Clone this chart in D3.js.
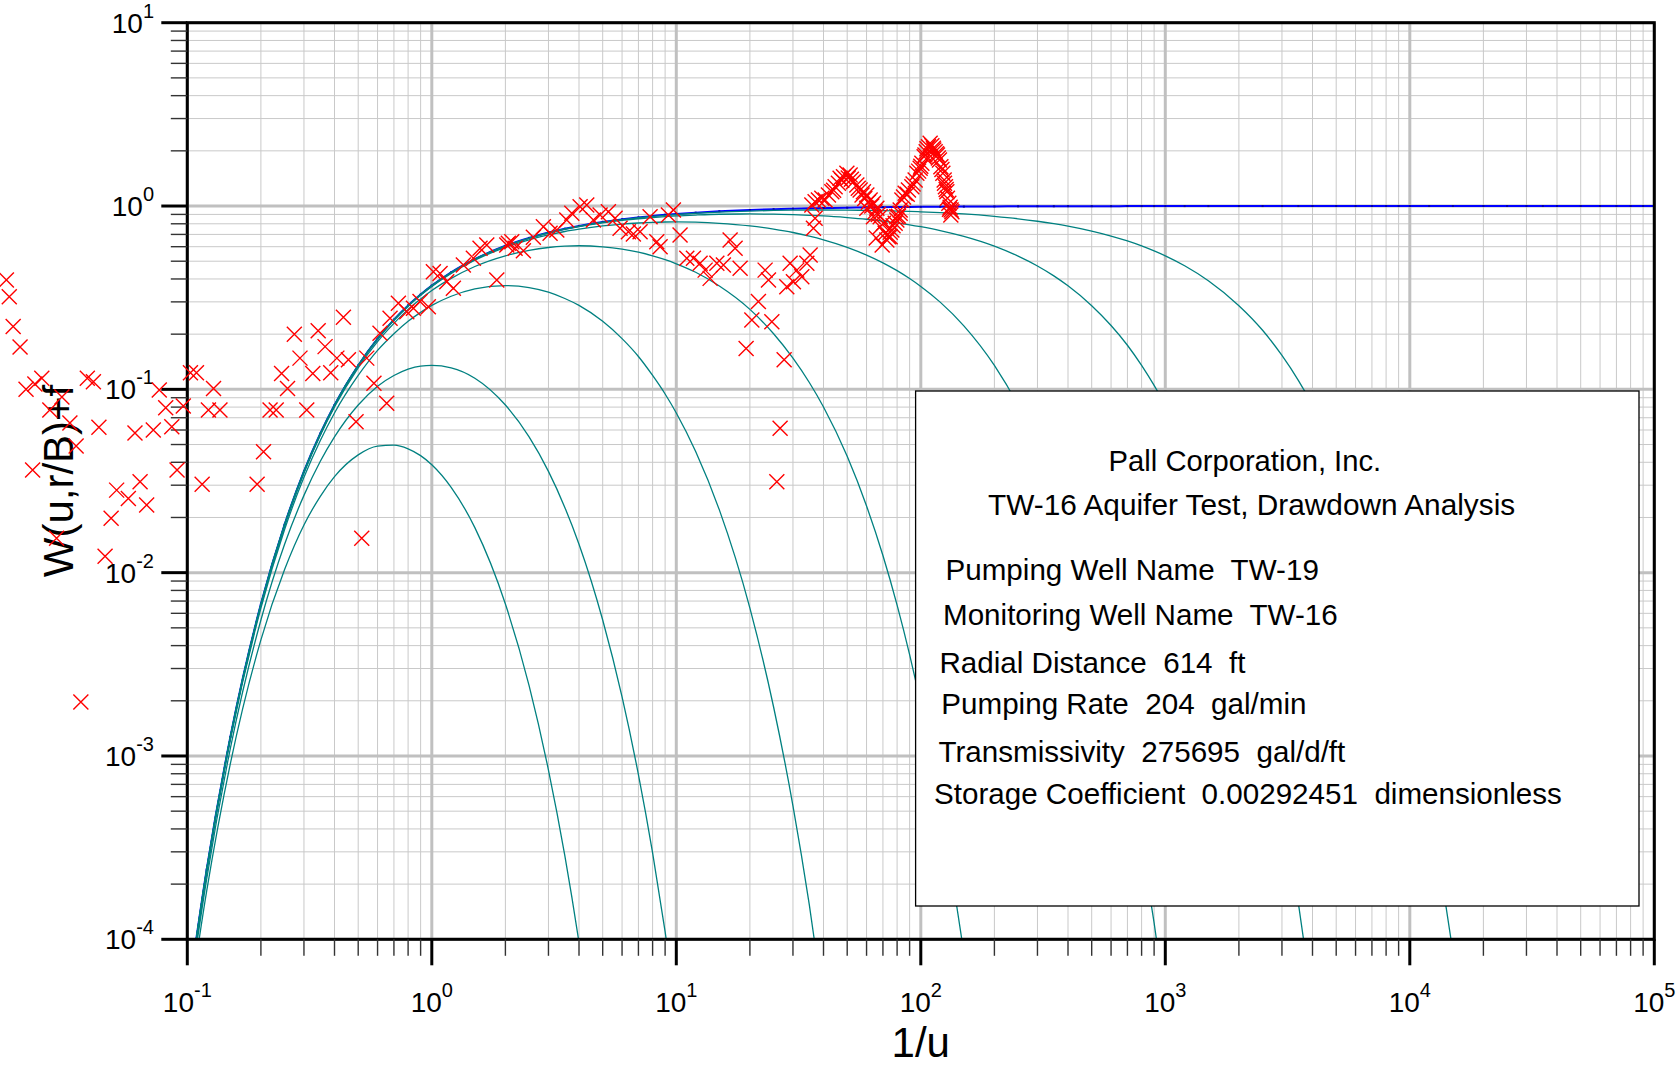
<!DOCTYPE html>
<html><head><meta charset="utf-8">
<script src="https://cdn.jsdelivr.net/npm/d3@7"></script>
<style>
html,body{margin:0;padding:0;background:#fff;}
svg{display:block;font-family:"Liberation Sans",Arial,sans-serif;}
</style></head><body>
<svg id="chart" width="1678" height="1068"></svg>
<script>
// ---------- DATA ----------
const xTickValues = [0.1, 1, 10, 100, 1000, 10000, 100000];
const xTickExp = ["-1", "0", "1", "2", "3", "4", "5"];
const yTickValues = [1e-4, 1e-3, 1e-2, 1e-1, 1, 10];
const yTickExp = ["-4", "-3", "-2", "-1", "0", "1"];

// type-curve sample points (1/u)
const invU = [0.1,0.12,0.15,0.2,0.25,0.3,0.35,0.4,0.5,0.6,0.7,0.8,0.9,
1,1.2,1.5,2,2.5,3,3.5,4,5,6,7,8,9,
10,12,15,20,25,30,35,40,50,60,70,80,90,
100,120,150,200,250,300,350,400,500,600,700,800,900,
1000,1200,1500,2000,2500,3000,3500,4000,5000,6000,7000,8000,9000,
10000,12000,15000,20000,25000,30000,35000,40000,50000,60000,70000,80000,90000,100000];

// blue curve (r/B = 0)
const blueW = [4.54e-5,2.40e-4,1.27e-3,6.74e-3,0.0183,0.0357,0.0574,0.0821,0.135,0.189,0.240,0.287,0.329,
0.368,0.435,0.513,0.607,0.670,0.717,0.752,0.779,0.819,0.846,0.867,0.882,0.895,
0.905,0.920,0.936,0.951,0.961,0.967,0.972,0.975,0.980,0.983,0.986,0.988,0.989,
0.990,0.992,0.993,0.995,0.996,0.997,0.997,0.998,0.998,0.998,0.999,0.999,0.999,
0.999,0.9992,0.9993,0.9995,0.9996,0.9997,0.9997,0.9998,0.9998,0.9998,0.9999,0.9999,0.9999,
1,1,1,1,1,1,1,1,1,1,1,1,1,1];

// teal family curves
const rB3 = [3.63e-5,1.83e-4,9.08e-4,4.30e-3,0.0104,0.0182,0.0261,0.0334,0.0439,0.0490,0.0496,0.0474,0.0435,
0.0388,0.0292,0.0176,6.74e-3,2.42e-3,8.38e-4,2.86e-4,9.61e-5,1.07e-5];
const rB2 = [4.11e-5,2.13e-4,1.10e-3,5.52e-3,0.0143,0.0264,0.0405,0.0550,0.0821,0.104,0.119,0.129,0.134,
0.135,0.131,0.115,0.0821,0.0550,0.0357,0.0227,0.0143,5.52e-3,2.10e-3,7.91e-4,2.96e-4,1.10e-4,4.11e-5];
const rB1 = [4.43e-5,2.33e-4,1.23e-3,6.41e-3,0.0172,0.0331,0.0526,0.0743,0.119,0.163,0.201,0.235,0.263,
0.287,0.322,0.353,0.368,0.359,0.339,0.313,0.287,0.235,0.189,0.151,0.119,0.0943,
0.0743,0.0458,0.0220,6.41e-3,1.85e-3,5.35e-4,1.54e-4,4.43e-5];
const rB05 = [4.51e-5,2.38e-4,1.26e-3,6.65e-3,0.0180,0.0350,0.0562,0.0801,0.131,0.182,0.229,0.273,0.311,
0.346,0.403,0.468,0.535,0.573,0.594,0.604,0.607,0.599,0.582,0.560,0.535,0.510,
0.484,0.435,0.366,0.273,0.201,0.148,0.109,0.0801,0.0431,0.0231,0.0124,6.65e-3,3.57e-3,
1.91e-3,5.49e-4,8.43e-5];
const rB02 = [4.54e-5,2.40e-4,1.27e-3,6.73e-3,0.0183,0.0356,0.0572,0.0818,0.135,0.188,0.238,0.284,0.326,
0.364,0.429,0.506,0.595,0.654,0.695,0.726,0.748,0.779,0.797,0.808,0.815,0.818,
0.819,0.816,0.805,0.779,0.748,0.717,0.685,0.654,0.595,0.540,0.490,0.444,0.402,
0.364,0.299,0.222,0.135,0.0818,0.0496,0.0301,0.0183,6.73e-3,2.48e-3,9.11e-4,3.35e-4,1.23e-4,4.54e-5];
const rB01 = [4.54e-5,2.40e-4,1.27e-3,6.73e-3,0.0183,0.0356,0.0574,0.0820,0.135,0.189,0.239,0.286,0.329,
0.367,0.433,0.512,0.604,0.666,0.711,0.745,0.771,0.809,0.834,0.852,0.865,0.875,
0.883,0.893,0.902,0.905,0.903,0.897,0.890,0.883,0.865,0.847,0.828,0.809,0.790,
0.771,0.735,0.683,0.604,0.533,0.471,0.416,0.367,0.286,0.223,0.174,0.135,0.105,
0.0820,0.0498,0.0235,6.73e-3,1.93e-3,5.53e-4,1.58e-4,4.54e-5];
const rB005 = [4.54e-5,2.40e-4,1.27e-3,6.74e-3,0.0183,0.0357,0.0574,0.0821,0.135,0.189,0.240,0.286,0.329,
0.368,0.434,0.513,0.606,0.669,0.715,0.750,0.777,0.816,0.843,0.863,0.878,0.890,
0.899,0.913,0.927,0.939,0.946,0.949,0.951,0.951,0.950,0.947,0.944,0.939,0.935,
0.930,0.920,0.905,0.878,0.852,0.826,0.801,0.777,0.730,0.686,0.645,0.606,0.569,
0.535,0.472,0.391,0.286,0.210,0.153,0.112,0.0821,0.0439,0.0235,0.0126,6.74e-3,3.61e-3,
1.93e-3,5.53e-4,8.48e-5,3.7e-6];

// observed drawdown data (1/u, W)
const obsInvU = [0.0182,0.0187,0.0194,0.0207,0.0219,0.0238,0.0254,0.0274,0.0307,0.0331,0.0351,0.0233,0.0390,0.0413,0.0435,
0.0514,0.0574,0.0641,0.0682,0.0488,0.0292,0.0461,0.0367,0.0611,0.0726,0.0864,0.0768,0.0816,0.0963,0.0908,
0.103,0.109,0.128,0.122,0.136,0.115,0.193,0.205,0.218,0.231,0.243,0.257,0.308,0.274,0.289,0.326,0.343,0.366,
0.386,0.409,0.435,0.456,0.490,0.542,0.580,0.654,0.517,0.614,0.675,0.730,0.790,0.841,0.895,0.968,1.015,1.081,
1.151,1.225,1.346,1.479,1.575,1.678,1.844,2.026,2.124,2.056,2.191,2.369,2.602,2.860,3.046,3.245,3.565,3.737,
4.042,4.303,4.580,4.879,5.275,5.618,5.889,6.368,6.675,7.110,7.812,8.322,8.585,9.283,9.730,10.36,11.04,11.75,
12.51,13.12,13.75,14.65,15.58,16.60,17.40,18.24,23.08,23.82,21.67,20.37,24.59,19.30,27.61,26.58,25.77,29.21,
31.11,32.61,30.13,28.31,34.19,35.27,36.38,36.96,35.84,36.96,38.13,39.37,40.62,41.90,43.26,44.63,46.03,46.77,
48.28,49.85,51.40,53.03,54.75,56.48,58.26,60.16,62.06,64.03,66.11,68.20,70.35,71.48,72.63,73.75,76.14,78.55,
79.80,82.34,83.68,86.30,89.02,91.92,94.82,96.34,99.38,101.0,103.2,105.2,107.5,109.2,112.6,114.5,117.0,119.2,
120.8,123.1,124.6,126.1,127.8,128.5,130.2,131.8,134.0,132.7,60.16,64.03,68.20,74.93,79.80,82.34,69.5,65.7,
44.0,47.5,50.5,52.0,55.5,57.5,59.0,61.0,63.0,65.0,67.0,75.0,77.0,81.0,85.0,88.0,93.0,98.0,100.0,104.0,106.0,
111.0,113.0,116.0,118.0,122.0,125.0,127.0,131.0,133.0];
const obsW = [0.395,0.320,0.220,0.170,0.100,0.107,0.115,0.0771,0.0908,0.0655,0.0491,0.0363,0.115,0.110,0.0621,
0.0282,0.0254,0.0313,0.0234,0.0198,0.0154,0.0123,0.00197,0.0578,0.0600,0.0625,0.0991,0.0794,0.0811,0.0363,
0.123,0.123,0.101,0.0771,0.0771,0.0304,0.0304,0.0457,0.0771,0.0771,0.122,0.101,0.0771,0.200,0.148,0.122,0.209,0.171,
0.123,0.148,0.247,0.145,0.0666,0.148,0.108,0.0839,0.0154,0.202,0.244,0.295,0.265,0.277,0.301,0.282,0.438,0.429,
0.386,0.356,0.477,0.519,0.588,0.613,0.395,0.613,0.639,0.626,0.588,0.570,0.675,0.771,0.710,0.740,0.839,0.912,
0.991,1.013,0.839,0.893,0.931,0.857,0.756,0.724,0.704,0.724,0.874,0.639,0.600,0.893,0.951,0.695,0.519,0.519,
0.487,0.447,0.403,0.487,0.477,0.653,0.588,0.457,0.447,0.395,0.301,0.239,0.234,0.167,0.145,0.0613,0.0313,0.487,
0.447,0.411,0.386,0.363,0.487,0.540,0.756,0.857,1.013,1.056,1.078,1.102,1.078,1.148,1.197,1.274,1.330,1.416,
1.445,1.508,1.476,1.357,1.302,1.223,1.197,1.148,1.078,1.034,0.972,0.874,0.805,0.710,0.653,0.680,0.740,0.805,
0.874,0.951,1.078,1.173,1.223,1.274,1.386,1.508,1.606,1.710,1.858,1.978,2.106,2.198,2.064,1.978,1.897,1.782,
1.638,1.508,1.386,1.274,1.197,1.102,1.034,0.984,0.931,0.893,0.972,0.874,0.771,0.680,0.839,0.912,0.613,0.669,
1.22,1.38,1.42,1.40,1.25,1.15,1.10,1.05,1.00,0.93,0.90,0.72,0.78,0.88,1.12,1.16,1.32,1.55,1.65,1.90,2.05,
2.13,2.02,1.93,1.83,1.58,1.33,1.23,0.96,0.95];

const boxTitleLines = ["Pall Corporation, Inc.", "TW-16 Aquifer Test, Drawdown Analysis"];
const boxInfoLines = ["Pumping Well Name  TW-19", "Monitoring Well Name  TW-16", "Radial Distance  614  ft",
  "Pumping Rate  204  gal/min", "Transmissivity  275695  gal/d/ft", "Storage Coefficient  0.00292451  dimensionless"];

// ---------- LAYOUT ----------
const M = {left: 187.3, right: 1654.3, top: 22.7, bottom: 939.3};
const boxRect = {x: 915.6, y: 391, w: 723.4, h: 515};
const titlePos = [[1244.9, 471], [1251.6, 515]];
const titleSize = [29.2, 29.8];
const infoPos = [[945.5, 580], [943, 625], [939.5, 672.7], [941.3, 714.3], [938.5, 761.7], [934, 804.3]];

const x = d3.scaleLog().domain([0.1, 1e5]).range([M.left, M.right]);
const y = d3.scaleLog().domain([1e-4, 10]).range([M.bottom, M.top]);
const svg = d3.select('#chart');

svg.append('defs').append('clipPath').attr('id', 'plotclip')
  .append('rect').attr('x', M.left).attr('y', M.top)
  .attr('width', M.right - M.left).attr('height', M.bottom - M.top);

const isDecade = v => Math.abs(Math.log10(v) - Math.round(Math.log10(v))) < 1e-9;
const xAll = x.ticks(), yAll = y.ticks();
const xMinor = xAll.filter(v => !isDecade(v)), yMinor = yAll.filter(v => !isDecade(v));

// grid
const grid = svg.append('g');
grid.selectAll('.vx').data(xMinor).enter().append('line')
  .attr('x1', d => x(d)).attr('x2', d => x(d)).attr('y1', M.top).attr('y2', M.bottom)
  .attr('stroke', '#c9c9c9').attr('stroke-width', 1);
grid.selectAll('.hy').data(yMinor).enter().append('line')
  .attr('y1', d => y(d)).attr('y2', d => y(d)).attr('x1', M.left).attr('x2', M.right)
  .attr('stroke', '#c9c9c9').attr('stroke-width', 1);
grid.selectAll('.vX').data(xTickValues).enter().append('line')
  .attr('x1', d => x(d)).attr('x2', d => x(d)).attr('y1', M.top).attr('y2', M.bottom)
  .attr('stroke', '#c0c0c0').attr('stroke-width', 3);
grid.selectAll('.hY').data(yTickValues).enter().append('line')
  .attr('y1', d => y(d)).attr('y2', d => y(d)).attr('x1', M.left).attr('x2', M.right)
  .attr('stroke', '#c0c0c0').attr('stroke-width', 3);

// curves
const curvesG = svg.append('g').attr('clip-path', 'url(#plotclip)');
const line = d3.line().x((d, i) => x(invU[i])).y(d => y(d)).curve(d3.curveMonotoneX);
curvesG.append('path').attr('d', line(blueW)).attr('fill', 'none')
  .attr('stroke', '#0000ff').attr('stroke-width', 2);
curvesG.selectAll('.bdot').data(blueW).enter().append('rect')
  .attr('x', (d, i) => x(invU[i]) - 1).attr('y', d => y(d) - 1)
  .attr('width', 2).attr('height', 2).attr('fill', '#0000a8');
[rB3, rB2, rB1, rB05, rB02, rB01, rB005].forEach(s => {
  curvesG.append('path').attr('d', line(s)).attr('fill', 'none')
    .attr('stroke', '#008080').attr('stroke-width', 1.3);
});

// axes frame
const ax = svg.append('g');
ax.append('rect').attr('x', M.left).attr('y', M.top).attr('width', M.right - M.left)
  .attr('height', M.bottom - M.top).attr('fill', 'none').attr('stroke', '#000').attr('stroke-width', 3);
ax.selectAll('.ymaj').data(yTickValues).enter().append('line')
  .attr('x1', M.left - 26).attr('x2', M.left).attr('y1', d => y(d)).attr('y2', d => y(d))
  .attr('stroke', '#000').attr('stroke-width', 3);
ax.selectAll('.ymin').data(yMinor).enter().append('line')
  .attr('x1', M.left - 16.5).attr('x2', M.left).attr('y1', d => y(d)).attr('y2', d => y(d))
  .attr('stroke', '#333').attr('stroke-width', 1.4);
ax.selectAll('.xmaj').data(xTickValues).enter().append('line')
  .attr('y1', M.bottom).attr('y2', M.bottom + 26).attr('x1', d => x(d)).attr('x2', d => x(d))
  .attr('stroke', '#000').attr('stroke-width', 3);
ax.selectAll('.xmin').data(xMinor).enter().append('line')
  .attr('y1', M.bottom).attr('y2', M.bottom + 16.5).attr('x1', d => x(d)).attr('x2', d => x(d))
  .attr('stroke', '#333').attr('stroke-width', 1.4);

// tick labels
yTickValues.forEach((v, i) => {
  const t = ax.append('text').attr('x', 154).attr('y', y(v) + 10).attr('text-anchor', 'end')
    .attr('font-size', 28).attr('fill', '#000');
  t.append('tspan').text('10');
  t.append('tspan').attr('font-size', 20).attr('dy', -15).text(yTickExp[i]);
});
xTickValues.forEach((v, i) => {
  const t = ax.append('text').attr('x', x(v)).attr('y', 1011.7).attr('text-anchor', 'middle')
    .attr('font-size', 28).attr('fill', '#000');
  t.append('tspan').text('10');
  t.append('tspan').attr('font-size', 20).attr('dy', -15).text(xTickExp[i]);
});

// axis titles
svg.append('text').attr('x', (M.left + M.right) / 2).attr('y', 1057).attr('text-anchor', 'middle')
  .attr('font-size', 42).text('1/u');
svg.append('text').attr('transform', `translate(72.5,${(M.top + M.bottom) / 2}) rotate(-90)`)
  .attr('text-anchor', 'middle').attr('font-size', 42).text('W(u,r/B)+f');

// observations
const mk = 'M-7.5,-7.5L7.5,7.5M-7.5,7.5L7.5,-7.5';
svg.append('g').selectAll('path').data(obsInvU).enter().append('path')
  .attr('transform', (d, i) => `translate(${x(d)},${y(obsW[i])})`)
  .attr('d', mk).attr('fill', 'none').attr('stroke', '#ff0000').attr('stroke-width', 1.4);

// info box
const box = svg.append('g');
box.append('rect').attr('x', boxRect.x).attr('y', boxRect.y).attr('width', boxRect.w).attr('height', boxRect.h)
  .attr('fill', '#fff').attr('stroke', '#000').attr('stroke-width', 1.3);
boxTitleLines.forEach((s, i) => {
  box.append('text').attr('x', titlePos[i][0]).attr('y', titlePos[i][1]).attr('text-anchor', 'middle')
    .attr('font-size', titleSize[i]).style('white-space', 'pre').text(s);
});
boxInfoLines.forEach((s, i) => {
  box.append('text').attr('x', infoPos[i][0]).attr('y', infoPos[i][1])
    .attr('font-size', 29.6).style('white-space', 'pre').text(s);
});
</script>
</body></html>
